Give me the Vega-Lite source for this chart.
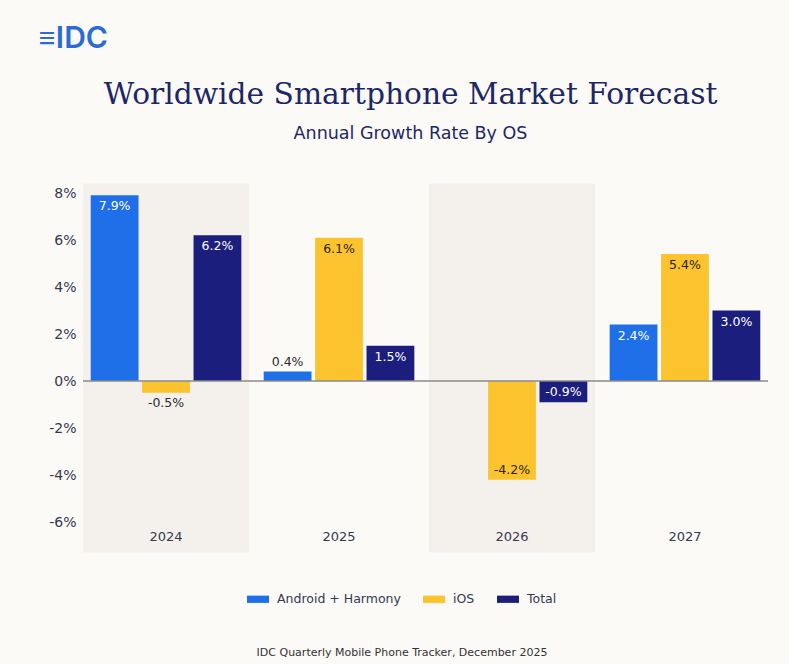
{
  "$schema": "https://vega.github.io/schema/vega-lite/v6.json",
  "background": "#fcfaf7",
  "padding": {"left": 38, "top": 24, "right": 20, "bottom": 6},
  "config": {
    "font": "DejaVu Sans",
    "view": {"stroke": null},
    "locale": {"number": {"decimal": ".", "thousands": ",", "grouping": [3], "currency": ["$", ""], "minus": "-"}},
    "axisX": {"domain": false, "ticks": false, "labelPadding": 8, "labelFontSize": 13, "labelColor": "#333950", "labelAngle": 0, "title": null, "zindex": 1},
    "axisY": {"domain": false, "ticks": false, "labelPadding": 7, "labelFontSize": 14, "labelColor": "#333950", "title": null, "gridColor": "#dcd9d4", "gridWidth": 1},
    "legend": {
      "titleOrient": "bottom", "titleAnchor": "middle", "titlePadding": 41, "titleLimit": 500,
      "titleFontSize": 11, "titleFontWeight": "normal", "titleColor": "#333333",
      "labelFontSize": 12.5, "labelColor": "#333950", "labelLimit": 300,
      "symbolType": "M-1,-0.33h2v0.66h-2z", "symbolSize": 484, "symbolStrokeWidth": 0,
      "columnPadding": 22, "labelOffset": 8
    }
  },
  "title": {"text": "≡IDC", "anchor": "start", "fontSize": 30, "color": "#2a6bd6", "font": "Inter", "fontWeight": 600, "offset": 26, "dx": -10},
  "vconcat": [
    {
      "width": 685,
      "height": 329,
      "title": {
        "text": "Worldwide Smartphone Market Forecast",
        "subtitle": "Annual Growth Rate By OS",
        "font": "DejaVu Serif", "fontSize": 29.7, "fontWeight": "normal", "color": "#1d2766",
        "subtitleFont": "DejaVu Sans", "subtitleFontSize": 17.5, "subtitleColor": "#1d2766", "subtitlePadding": 14,
        "offset": 40, "anchor": "middle", "frame": "group", "dx": -15
      },
      "data": {
        "values": [
          {"year": "2024", "os": "Android + Harmony", "value": 0.079},
          {"year": "2024", "os": "iOS", "value": -0.005},
          {"year": "2024", "os": "Total", "value": 0.062},
          {"year": "2025", "os": "Android + Harmony", "value": 0.004},
          {"year": "2025", "os": "iOS", "value": 0.061},
          {"year": "2025", "os": "Total", "value": 0.015},
          {"year": "2026", "os": "iOS", "value": -0.042},
          {"year": "2026", "os": "Total", "value": -0.009},
          {"year": "2027", "os": "Android + Harmony", "value": 0.024},
          {"year": "2027", "os": "iOS", "value": 0.054},
          {"year": "2027", "os": "Total", "value": 0.030}
        ]
      },
      "layer": [
        {
          "transform": [{"filter": "(datum.year == '2024' || datum.year == '2026') && datum.os == 'Total'"}],
          "mark": {"type": "rect", "color": "#6b5a40", "opacity": 0.055},
          "encoding": {
            "x": {"field": "year", "type": "ordinal", "scale": {"paddingInner": 0.04, "paddingOuter": 0}},
            "y": {"datum": 0.084, "type": "quantitative", "scale": {"domain": [-0.06, 0.08]}},
            "y2": {"datum": -0.073}
          }
        },
        {
          "mark": {"type": "bar"},
          "encoding": {
            "x": {"field": "year", "type": "ordinal", "scale": {"paddingInner": 0.04, "paddingOuter": 0}},
            "xOffset": {"field": "os", "type": "nominal", "scale": {"domain": ["Android + Harmony", "iOS", "Total"], "paddingInner": 0.07, "paddingOuter": 0.15}},
            "y": {"field": "value", "type": "quantitative", "scale": {"domain": [-0.06, 0.08], "nice": false},
                  "axis": {"format": ".0%", "values": [-0.06, -0.04, -0.02, 0, 0.02, 0.04, 0.06, 0.08]}},
            "color": {"field": "os", "type": "nominal",
                      "scale": {"domain": ["Android + Harmony", "iOS", "Total"], "range": ["#1f6fe8", "#fbc42e", "#1b1e7c"]},
                      "legend": {"title": "IDC Quarterly Mobile Phone Tracker, December 2025", "orient": "none", "direction": "horizontal", "legendX": 164, "legendY": 395}}
          }
        },
        {
          "data": {"values": [{}]},
          "mark": {"type": "rule", "color": "#8a8a8a", "strokeWidth": 1.5},
          "encoding": {"y": {"datum": 0, "type": "quantitative", "scale": {"domain": [-0.06, 0.08]}}}
        },
        {
          "transform": [{"filter": "datum.value >= 0.01"}],
          "mark": {"type": "text", "baseline": "top", "dy": 5, "fontSize": 12.5},
          "encoding": {
            "x": {"field": "year", "type": "ordinal"},
            "xOffset": {"field": "os", "type": "nominal"},
            "y": {"field": "value", "type": "quantitative", "scale": {"domain": [-0.06, 0.08]}},
            "text": {"field": "value", "format": ".1%"},
            "color": {"condition": {"test": "datum.os == 'iOS'", "value": "#2b2410"}, "value": "#ffffff"}
          }
        },
        {
          "transform": [{"filter": "datum.value > 0 && datum.value < 0.01"}],
          "mark": {"type": "text", "baseline": "bottom", "dy": -3, "fontSize": 12.5, "color": "#2b2b2b"},
          "encoding": {
            "x": {"field": "year", "type": "ordinal"},
            "xOffset": {"field": "os", "type": "nominal"},
            "y": {"field": "value", "type": "quantitative", "scale": {"domain": [-0.06, 0.08]}},
            "text": {"field": "value", "format": ".1%"}
          }
        },
        {
          "transform": [{"filter": "datum.value < 0 && datum.value > -0.007"}],
          "mark": {"type": "text", "baseline": "top", "dy": 4, "fontSize": 12.5, "color": "#2b2b2b"},
          "encoding": {
            "x": {"field": "year", "type": "ordinal"},
            "xOffset": {"field": "os", "type": "nominal"},
            "y": {"field": "value", "type": "quantitative", "scale": {"domain": [-0.06, 0.08]}},
            "text": {"field": "value", "format": ".1%"}
          }
        },
        {
          "transform": [{"filter": "datum.value <= -0.007"}],
          "mark": {"type": "text", "baseline": "bottom", "dy": -3, "fontSize": 12.5},
          "encoding": {
            "x": {"field": "year", "type": "ordinal"},
            "xOffset": {"field": "os", "type": "nominal"},
            "y": {"field": "value", "type": "quantitative", "scale": {"domain": [-0.06, 0.08]}},
            "text": {"field": "value", "format": ".1%"},
            "color": {"condition": {"test": "datum.os == 'iOS'", "value": "#2b2410"}, "value": "#ffffff"}
          }
        }
      ]
    }
  ]
}
